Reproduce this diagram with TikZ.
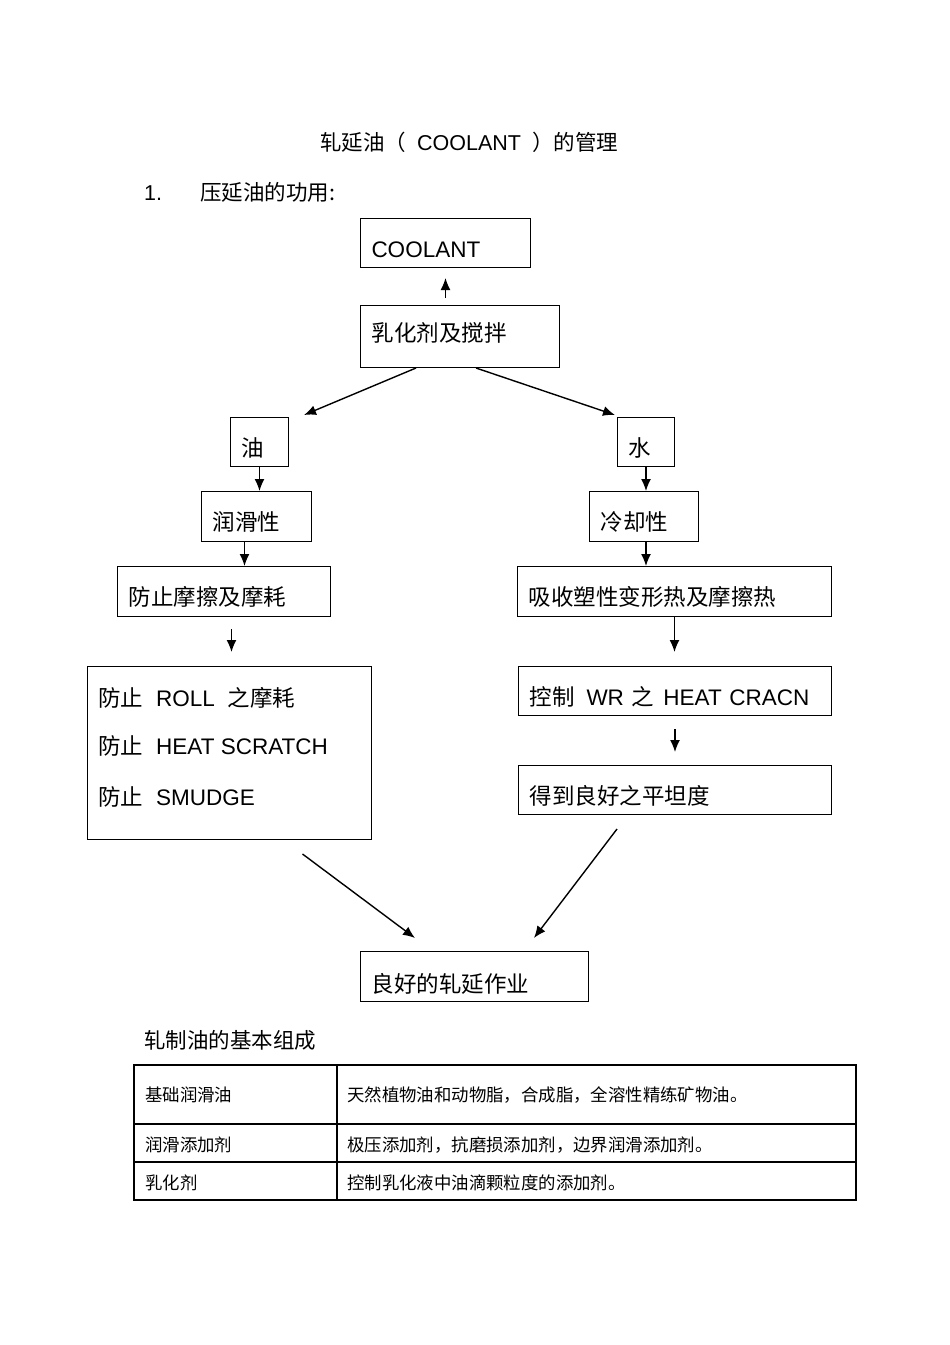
\documentclass[tikz,border=0pt]{standalone}
\usepackage{fontspec}
\setmainfont{Noto Sans CJK SC}
\newfontfamily\lat{Liberation Sans}
\usetikzlibrary{arrows.meta,calc}
\tikzset{
    box/.style={draw, line width=1pt, anchor=north west, inner xsep=11pt, inner ysep=0pt, align=left, text height=30pt, text depth=2pt, font=\fontsize{22.5}{27}\selectfont},
    flow/.style={-{Latex[length=12pt,width=10pt]}, line width=1.4pt},
    ptxt/.style={anchor=base west, inner sep=0pt, font=\fontsize{22.5}{27}\selectfont},
    head/.style={anchor=base west, inner sep=0pt, font=\fontsize{21.5}{26}\selectfont},
    ttxt/.style={anchor=base west, inner sep=0pt, font=\fontsize{17.4}{21}\selectfont},
    grid/.style={line width=1.4pt},
}

\begin{document}
\begin{tikzpicture}[x=1pt, y=-1pt]
    \useasboundingbox (0,0) rectangle (950,1345);

    % headings
    \node[head] (title) at (320,150) {轧延油（\hspace{11pt}{\lat COOLANT}\hspace{11pt}）的管理};
    \node[head] (sec) at (144,200) {{\lat 1.}\hspace{38pt}压延油的功用:};

    % flow boxes
    \node[box, text width=148pt, minimum height=49pt] (coolant) at (360,218) {\lat COOLANT};
    \node[box, text width=177pt, minimum height=62pt, text height=16pt, text depth=6pt] (emuls) at (360,305) {乳化剂及搅拌};
    \node[box, text width=36pt, minimum height=49pt] (oil) at (230,417) {油};
    \node[box, text width=35pt, minimum height=49pt] (water) at (617,417) {水};
    \node[box, text width=88pt, minimum height=50pt] (lub) at (201,491) {润滑性};
    \node[box, text width=87pt, minimum height=50pt] (cool) at (589,491) {冷却性};
    \node[box, text width=191pt, minimum height=50pt] (fric) at (117,566) {防止摩擦及摩耗};
    \node[box, text width=292pt, minimum height=50pt] (heat) at (517,566) {吸收塑性变形热及摩擦热};
    \node[box, minimum width=284pt, minimum height=173pt] (prot) at (87,666) {};
    \node[box, text width=291pt, minimum height=49pt] (crack) at (518,666) {控制\hspace{12pt}{\lat WR}\hspace{8pt}之\hspace{9pt}{\lat HEAT CRACN}};
    \node[box, text width=291pt, minimum height=49pt] (flat) at (518,765) {得到良好之平坦度};
    \node[box, text width=206pt, minimum height=50pt, text height=33pt, text depth=1pt] (good) at (360,951) {良好的轧延作业};

    % lines inside the big box
    \node[ptxt] (roll) at (98,706) {防止\hspace{13pt}{\lat ROLL}\hspace{13pt}之摩耗};
    \node[ptxt] (scratch) at (98,754) {防止\hspace{13pt}{\lat HEAT SCRATCH}};
    \node[ptxt] (smudge) at (98,805) {防止\hspace{13pt}{\lat SMUDGE}};

    % arrows
    \draw[flow, shorten <=7pt, shorten >=10pt] (emuls.north -| coolant.south) -- (coolant.south);
    \draw[flow] ([xshift=-44pt]emuls.south) -- ([shift={(15pt,2pt)}]oil.north east);
    \draw[flow] ([xshift=16pt]emuls.south) -- ([shift={(-2pt,2pt)}]water.north west);
    \draw[flow] (oil.south) -- (oil.south |- lub.north);
    \draw[flow] ([xshift=-12pt]lub.south) -- ([xshift=-12pt]lub.south |- fric.north);
    \draw[flow, shorten <=12pt, shorten >=14pt] ([xshift=2pt]fric.south -| prot.north) -- ([xshift=2pt]prot.north);
    \draw[flow] (water.south) -- (water.south |- cool.north);
    \draw[flow] (water.south |- cool.south) -- (water.south |- heat.north);
    \draw[flow, shorten >=14pt] (heat.south) -- (heat.south |- crack.north);
    \draw[flow, shorten <=13pt, shorten >=13pt] (crack.south) -- (crack.south |- flat.north);
    \draw[flow] ([shift={(73pt,-14pt)}]prot.south) -- ([shift={(55pt,13pt)}]good.north west);
    \draw[flow] ([shift={(99pt,-14pt)}]flat.south west) -- ([shift={(-55pt,13pt)}]good.north east);

    % composition table
    \node[head] (comp) at (144,1048) {轧制油的基本组成};
    \draw[line width=2pt] (134,1065) rectangle (856,1200);
    \draw[grid] (337,1065) -- (337,1200) (134,1124) -- (856,1124) (134,1162) -- (856,1162);
    \node[ttxt] (base) at (145,1101.5) {基础润滑油};
    \node[ttxt] (basedesc) at (347,1101.5) {天然植物油和动物脂，合成脂，全溶性精练矿物油。};
    \node[ttxt] (addit) at (145,1151) {润滑添加剂};
    \node[ttxt] (additdesc) at (347,1151) {极压添加剂，抗磨损添加剂，边界润滑添加剂。};
    \node[ttxt] (emul) at (145,1189) {乳化剂};
    \node[ttxt] (emuldesc) at (347,1189) {控制乳化液中油滴颗粒度的添加剂。};
\end{tikzpicture}
\end{document}
